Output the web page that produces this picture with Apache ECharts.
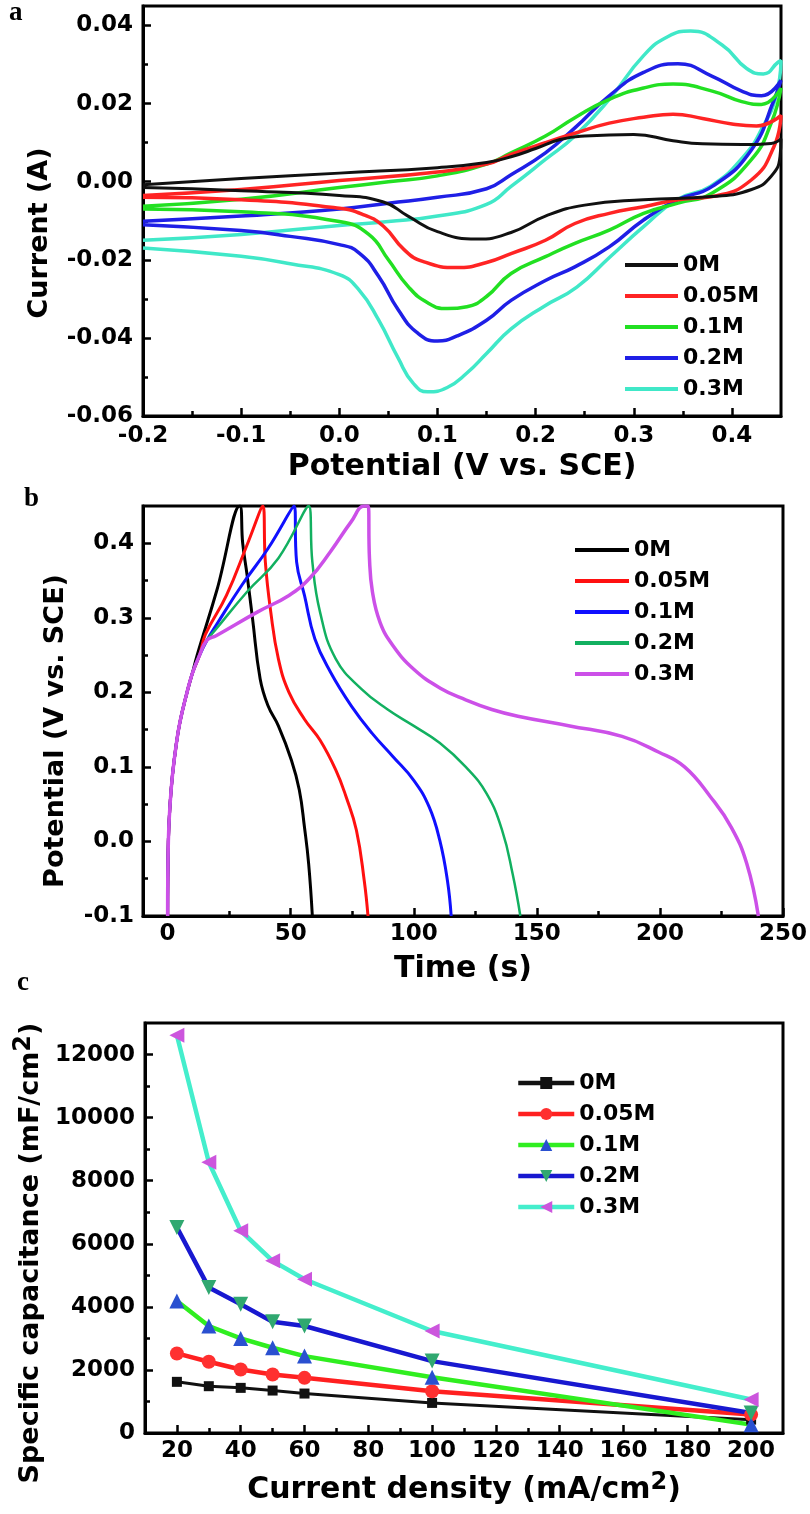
<!DOCTYPE html>
<html>
<head>
<meta charset="utf-8">
<script src="https://cdn.jsdelivr.net/npm/echarts@6/dist/echarts.min.js"></script>
<style>
  html, body { margin: 0; padding: 0; background: #fff; }
  #chart { width: 810px; height: 1514px; }
</style>
</head>
<body>
<div id="chart"></div>
<script>
// ---- panel a: cyclic voltammetry, [potential V, current A], forward then reverse scan
const cvNames = ['0M', '0.05M', '0.1M', '0.2M', '0.3M'];
const cv0M = [[-0.2,-0.0008],[-0.1,0.0008],[0.0,0.0022],[0.1,0.0036],[0.15,0.0049],[0.175,0.0064],[0.2,0.0085],[0.225,0.0108],[0.25,0.0117],[0.3,0.0121],[0.34,0.0105],[0.37,0.0097],[0.41,0.0095],[0.44,0.0098],[0.45,0.011],
  [0.449,0.0065],[0.44,0.0014],[0.42,-0.002],[0.38,-0.0038],[0.31,-0.0046],[0.25,-0.006],[0.21,-0.0088],[0.175,-0.013],[0.14,-0.0147],[0.1,-0.0128],[0.07,-0.0088],[0.045,-0.0052],[0.0,-0.0035],[-0.1,-0.0023],[-0.2,-0.0015]];
const cv005M = [[-0.2,-0.0035],[-0.1,-0.002],[0.0,0.0003],[0.1,0.0025],[0.15,0.0045],[0.175,0.007],[0.21,0.01],[0.24,0.0124],[0.275,0.015],[0.31,0.0165],[0.34,0.0173],[0.37,0.0162],[0.4,0.0148],[0.425,0.0143],[0.45,0.017],
  [0.443,0.0091],[0.42,0.0005],[0.38,-0.0038],[0.345,-0.0046],[0.31,-0.0064],[0.275,-0.0081],[0.24,-0.0107],[0.21,-0.015],[0.175,-0.0184],[0.15,-0.0207],[0.12,-0.022],[0.085,-0.0204],[0.066,-0.0174],[0.045,-0.0114],[0.025,-0.0085],[0.0,-0.0068],[-0.1,-0.0046],[-0.2,-0.004]];
const cv01M = [[-0.2,-0.0063],[-0.1,-0.0045],[0.0,-0.0015],[0.05,0.0],[0.1,0.0015],[0.15,0.0045],[0.175,0.0074],[0.21,0.0117],[0.24,0.0164],[0.275,0.0211],[0.31,0.024],[0.34,0.025],[0.38,0.0232],[0.41,0.0205],[0.43,0.0198],[0.45,0.024],
  [0.44,0.015],[0.42,0.0057],[0.38,-0.0029],[0.345,-0.0055],[0.31,-0.0081],[0.275,-0.0124],[0.24,-0.0158],[0.21,-0.0192],[0.175,-0.0235],[0.15,-0.0294],[0.13,-0.032],[0.11,-0.0325],[0.09,-0.031],[0.07,-0.0268],[0.05,-0.02],[0.03,-0.0135],[0.0,-0.0102],[-0.1,-0.0077],[-0.2,-0.007]];
const cv02M = [[-0.2,-0.0101],[-0.1,-0.0088],[0.0,-0.007],[0.05,-0.0055],[0.1,-0.004],[0.15,-0.0018],[0.175,0.0018],[0.21,0.0074],[0.24,0.0138],[0.275,0.022],[0.31,0.028],[0.345,0.0302],[0.38,0.027],[0.41,0.0232],[0.43,0.022],[0.45,0.026],
  [0.443,0.021],[0.42,0.0082],[0.38,-0.0012],[0.345,-0.0046],[0.31,-0.0098],[0.275,-0.0167],[0.24,-0.0218],[0.21,-0.0253],[0.175,-0.0304],[0.15,-0.0355],[0.12,-0.0395],[0.1,-0.0408],[0.08,-0.0388],[0.06,-0.0328],[0.04,-0.0242],[0.02,-0.0182],[0.0,-0.0161],[-0.05,-0.014],[-0.1,-0.0125],[-0.2,-0.011]];
const cv03M = [[-0.2,-0.015],[-0.1,-0.0135],[0.0,-0.0112],[0.05,-0.0102],[0.1,-0.0088],[0.15,-0.0058],[0.175,-0.0012],[0.21,0.0057],[0.24,0.0117],[0.275,0.0211],[0.31,0.0323],[0.335,0.0372],[0.358,0.0386],[0.39,0.035],[0.415,0.029],[0.432,0.0276],[0.447,0.0306],[0.45,0.031],
  [0.445,0.022],[0.432,0.0143],[0.412,0.0065],[0.378,-0.0012],[0.344,-0.0046],[0.31,-0.0115],[0.276,-0.0192],[0.242,-0.027],[0.208,-0.032],[0.175,-0.0377],[0.15,-0.044],[0.13,-0.049],[0.11,-0.0527],[0.09,-0.0538],[0.075,-0.0515],[0.06,-0.0452],[0.04,-0.0354],[0.02,-0.0277],[0.0,-0.0238],[-0.05,-0.021],[-0.1,-0.0191],[-0.2,-0.017]];

// ---- panel b: charge/discharge, [time s, potential V]
const gcdNames = ['0M', '0.05M', '0.1M', '0.2M', '0.3M'];
const gcdStart = [[0,-0.1],[0.3,0.0],[1,0.05],[2,0.09],[3.5,0.13],[5,0.16],[7.5,0.195],[10,0.225]];
const gcd0M = [[12,0.25],[20,0.337],[29.3,0.45],[30.5,0.4],[32.3,0.357],[34.5,0.299],[37.6,0.218],[40.8,0.182],[45,0.155],[50.3,0.109],[53.5,0.069],[55.6,0.019],[57.3,-0.03],[58.8,-0.1]];
const gcd005M = [[13,0.25],[15.4,0.278],[23.9,0.33],[32.3,0.398],[38.7,0.45],[39.7,0.375],[41.9,0.308],[45,0.245],[49.3,0.2],[55.6,0.164],[61.9,0.136],[68.3,0.096],[72.5,0.06],[76.7,0.015],[79.9,-0.053],[81.4,-0.1]];
const gcd01M = [[13,0.25],[16,0.27],[19.7,0.29],[30.2,0.344],[40.8,0.393],[51.4,0.45],[52.4,0.375],[55.6,0.33],[59.8,0.272],[66.2,0.227],[74.6,0.182],[83.1,0.145],[91.5,0.114],[100,0.082],[106.3,0.046],[110.6,0.001],[113.7,-0.053],[115.2,-0.1]];
const gcd02M = [[13,0.25],[16,0.27],[19.7,0.285],[32.3,0.335],[45,0.38],[57.3,0.45],[58.8,0.375],[61.9,0.308],[68.3,0.245],[78.9,0.204],[89.4,0.177],[100,0.155],[110.6,0.132],[121.1,0.1],[129.6,0.064],[135.9,0.015],[140.2,-0.044],[143.3,-0.1]];
const gcd03M = [[13,0.25],[16,0.27],[19.7,0.276],[36.6,0.308],[49.3,0.33],[57.7,0.353],[66.2,0.389],[74.6,0.429],[79.9,0.45],[81.5,0.45],[82,0.38],[83.2,0.335],[86.3,0.294],[91.5,0.263],[100,0.231],[110.6,0.206],[121.1,0.19],[131.7,0.177],[142.3,0.168],[163.4,0.155],[184.6,0.141],[199.4,0.12],[210,0.1],[220.5,0.06],[229,0.019],[235.3,-0.03],[240,-0.1]];

// ---- panel c: specific capacitance (mF/cm2) vs current density (mA/cm2)
const capNames = ['0M', '0.05M', '0.1M', '0.2M', '0.3M'];
const currentDensity = [20, 30, 40, 50, 60, 100, 200];
const cap0M = [1622, 1484, 1431, 1346, 1251, 954, 424];
const cap005M = [2523, 2258, 2014, 1855, 1749, 1325, 583];
const cap01M = [4187, 3392, 3000, 2703, 2438, 1770, 265];
const cap02M = [6519, 4611, 4081, 3530, 3392, 2279, 636];
const cap03M = [12614, 8586, 6413, 5459, 4876, 3233, 1060];

// tick positions
const cvXMajor = [-0.2, -0.1, 0.0, 0.1, 0.2, 0.3, 0.4];
const cvXMinor = [-0.15, -0.05, 0.05, 0.15, 0.25, 0.35];
const cvYMajor = [-0.06, -0.04, -0.02, 0.0, 0.02, 0.04];
const cvYMinor = [-0.05, -0.03, -0.01, 0.01, 0.03];
const gcdXMajor = [0, 50, 100, 150, 200, 250];
const gcdXMinor = [25, 75, 125, 175, 225];
const gcdYMajor = [-0.1, 0.0, 0.1, 0.2, 0.3, 0.4];
const gcdYMinor = [-0.05, 0.05, 0.15, 0.25, 0.35];
const capXMajor = [20, 40, 60, 80, 100, 120, 140, 160, 180, 200];
const capXMinor = [30, 50, 70, 90, 110, 130, 150, 170, 190];
const capYMajor = [0, 2000, 4000, 6000, 8000, 10000, 12000];
const capYMinor = [1000, 3000, 5000, 7000, 9000, 11000];

const FONT = 'DejaVu Sans';
const supRich = {
  s: { fontFamily: FONT, fontWeight: 'bold', fontSize: 24, padding: [0, 0, 14, 0] }
};

const xAxes = [];
const yAxes = [];

function addAxes(list, dim, g, min, max, majors, minors, fmt, name, nameGap, nameSize, namePad, margin) {
  const pos = dim === 'x' ? 'bottom' : 'left';
  list.push({
    type: 'value', gridIndex: g, min: min, max: max, position: pos,
    axisLine: { show: true, onZero: false, lineStyle: { color: '#000', width: 3 } },
    axisTick: { inside: true, length: 8, customValues: majors, lineStyle: { color: '#000', width: 2.5 } },
    axisLabel: { customValues: majors, formatter: fmt, margin: margin, color: '#000',
      fontFamily: FONT, fontWeight: 'bold', fontSize: 23 },
    splitLine: { show: false },
    name: name, nameLocation: 'middle', nameGap: nameGap,
    nameTextStyle: { color: '#000', fontFamily: FONT, fontWeight: 'bold', fontSize: nameSize,
      padding: namePad, rich: supRich }
  });
  // second axis on the same side carries only the short minor ticks
  list.push({
    type: 'value', gridIndex: g, min: min, max: max, position: pos,
    axisLine: { show: false, onZero: false },
    axisTick: { inside: true, length: 5, customValues: minors, lineStyle: { color: '#000', width: 2.5 } },
    axisLabel: { show: false },
    splitLine: { show: false }
  });
}

addAxes(xAxes, 'x', 0, -0.2, 0.45, cvXMajor, cvXMinor, v => v.toFixed(1), 'Potential (V vs. SCE)', 36, 30, 0, 9);
addAxes(yAxes, 'y', 0, -0.06, 0.045, cvYMajor, cvYMinor, v => v.toFixed(2), 'Current (A)', 90, 27, [0, 44, 0, 0], 10);
addAxes(xAxes, 'x', 1, -10, 250, gcdXMajor, gcdXMinor, v => String(v), 'Time (s)', 38, 30, 0, 7);
addAxes(yAxes, 'y', 1, -0.1, 0.45, gcdYMajor, gcdYMinor, v => v.toFixed(1), 'Potential (V vs. SCE)', 74, 27, [0, 40, 0, 0], 9);
addAxes(xAxes, 'x', 2, 10, 210, capXMajor, capXMinor, v => String(v), 'Current density (mA/cm{s|2})', 38, 30, 0, 7);
addAxes(yAxes, 'y', 2, 0, 13000, capYMajor, capYMinor, v => String(v), 'Specific capacitance (mF/cm{s|2})', 94, 27, [0, 50, 0, 0], 10);

const cvColors = ['#111111', '#ff2424', '#22e022', '#1f1fe6', '#40e8c8'];
const cvWidths = [3, 3.5, 3.5, 3.5, 3.5];
const cvData = [cv0M, cv005M, cv01M, cv02M, cv03M];
const gcdColors = ['#000000', '#ff1010', '#1010ff', '#12b060', '#cc50e8'];
const gcdWidths = [3, 3, 3, 2.5, 3.5];
const gcdData = [gcd0M, gcd005M, gcd01M, gcd02M, gcd03M];
const capLineColors = ['#111111', '#ff2020', '#30ee20', '#1818d0', '#44eecc'];
const capMarkColors = ['#111111', '#ff3030', '#2a50d0', '#30a870', '#cc55dd'];
const capWidths = [3, 4.5, 4.5, 4.5, 4.5];
const capSymbols = ['rect', 'circle', 'triangle', 'triangle', 'triangle'];
const capRotate = [0, 0, 0, 180, 90];
const capSizes = [10, 14, 15, 15, 15];
const capData = [cap0M, cap005M, cap01M, cap02M, cap03M];

const series = [];
cvNames.forEach((n, i) => {
  series.push({
    name: 'a|' + n, type: 'line', xAxisIndex: 0, yAxisIndex: 0,
    data: cvData[i], symbol: 'none', smooth: 0.5,
    lineStyle: { color: cvColors[i], width: cvWidths[i] },
    itemStyle: { color: cvColors[i] }, z: 10 - i
  });
});
gcdNames.forEach((n, i) => {
  series.push({
    name: 'b|' + n, type: 'line', xAxisIndex: 2, yAxisIndex: 2,
    data: gcdStart.concat(gcdData[i]), symbol: 'none', smooth: 0.45,
    lineStyle: { color: gcdColors[i], width: gcdWidths[i] },
    itemStyle: { color: gcdColors[i] }
  });
});
capNames.forEach((n, i) => {
  series.push({
    name: 'c|' + n, type: 'line', xAxisIndex: 4, yAxisIndex: 4,
    data: currentDensity.map((x, k) => [x, capData[i][k]]),
    symbol: capSymbols[i], symbolSize: capSizes[i], symbolRotate: capRotate[i],
    lineStyle: { color: capLineColors[i], width: capWidths[i] },
    itemStyle: { color: capMarkColors[i] }
  });
});

const legendText = { color: '#000', fontFamily: FONT, fontWeight: 'bold', fontSize: 22, lineHeight: 22 };

// plain line icons for panels a and b
function lineLegend(prefix, names, colors, left, top, w) {
  return {
    orient: 'vertical', left: left, top: top, padding: 0,
    itemWidth: w, itemHeight: 4, itemGap: 9, selectedMode: false,
    data: names.map((n, i) => ({
      name: prefix + '|' + n, icon: 'rect',
      itemStyle: { color: colors[i] }
    })),
    formatter: s => s.split('|')[1],
    textStyle: legendText
  };
}

const capLegend = {
  orient: 'vertical', left: 516, top: 1072, padding: 0,
  itemWidth: 56, itemHeight: 15, itemGap: 9, selectedMode: false,
  lineStyle: { width: 4.5 },
  data: capNames.map(n => 'c|' + n),
  formatter: s => s.split('|')[1],
  textStyle: legendText
};

const panelLabel = (t, x, y) => ({
  type: 'text', left: x, top: y,
  style: { text: t, fill: '#000', font: 'bold 27px "Liberation Serif", serif' }
});

const chart = echarts.init(document.getElementById('chart'), null, { renderer: 'canvas' });
chart.setOption({
  animation: false,
  backgroundColor: '#fff',
  grid: [
    { left: 143, right: 29, top: 6, height: 410, show: true, borderColor: '#000', borderWidth: 3 },
    { left: 143, right: 27, top: 506, height: 410, show: true, borderColor: '#000', borderWidth: 3 },
    { left: 145, right: 27, top: 1023, height: 410, show: true, borderColor: '#000', borderWidth: 3 }
  ],
  xAxis: xAxes,
  yAxis: yAxes,
  legend: [
    lineLegend('a', cvNames, cvColors, 625, 254, 53),
    lineLegend('b', gcdNames, gcdColors, 575, 539, 54),
    capLegend
  ],
  graphic: [
    panelLabel('a', 9, 0),
    panelLabel('b', 24, 486),
    panelLabel('c', 17, 970)
  ],
  series: series
});
</script>
</body>
</html>
